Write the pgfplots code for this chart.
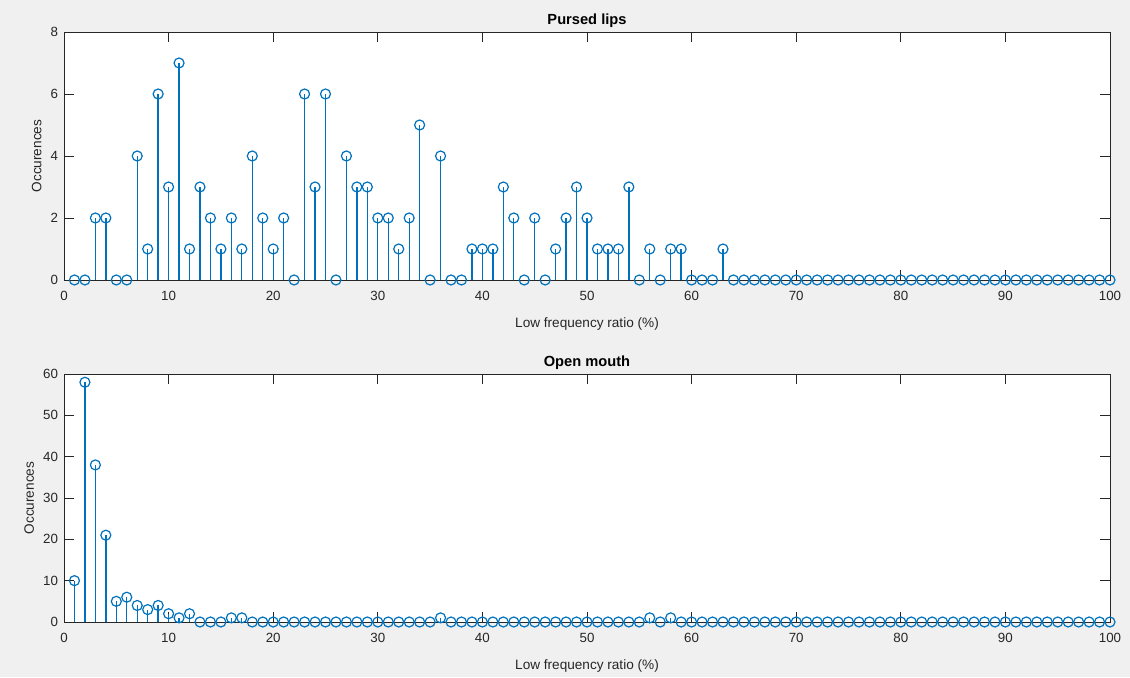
\documentclass[border=0pt]{standalone}
\usepackage{pgfplots}
\pgfplotsset{compat=1.18}
\usepackage{pgfplotstable}
\usepackage{fontspec}
\setmainfont{Liberation Sans}
\definecolor{mblue}{RGB}{0,114,189}
\definecolor{mgray}{RGB}{38,38,38}
\definecolor{bg}{RGB}{240,240,240}

\pgfplotstableread{
x y
1 0
2 0
3 2
4 2
5 0
6 0
7 4
8 1
9 6
10 3
11 7
12 1
13 3
14 2
15 1
16 2
17 1
18 4
19 2
20 1
21 2
22 0
23 6
24 3
25 6
26 0
27 4
28 3
29 3
30 2
31 2
32 1
33 2
34 5
35 0
36 4
37 0
38 0
39 1
40 1
41 1
42 3
43 2
44 0
45 2
46 0
47 1
48 2
49 3
50 2
51 1
52 1
53 1
54 3
55 0
56 1
57 0
58 1
59 1
60 0
61 0
62 0
63 1
64 0
65 0
66 0
67 0
68 0
69 0
70 0
71 0
72 0
73 0
74 0
75 0
76 0
77 0
78 0
79 0
80 0
81 0
82 0
83 0
84 0
85 0
86 0
87 0
88 0
89 0
90 0
91 0
92 0
93 0
94 0
95 0
96 0
97 0
98 0
99 0
100 0
}\pursed

\pgfplotstableread{
x y
1 10
2 58
3 38
4 21
5 5
6 6
7 4
8 3
9 4
10 2
11 1
12 2
13 0
14 0
15 0
16 1
17 1
18 0
19 0
20 0
21 0
22 0
23 0
24 0
25 0
26 0
27 0
28 0
29 0
30 0
31 0
32 0
33 0
34 0
35 0
36 1
37 0
38 0
39 0
40 0
41 0
42 0
43 0
44 0
45 0
46 0
47 0
48 0
49 0
50 0
51 0
52 0
53 0
54 0
55 0
56 1
57 0
58 1
59 0
60 0
61 0
62 0
63 0
64 0
65 0
66 0
67 0
68 0
69 0
70 0
71 0
72 0
73 0
74 0
75 0
76 0
77 0
78 0
79 0
80 0
81 0
82 0
83 0
84 0
85 0
86 0
87 0
88 0
89 0
90 0
91 0
92 0
93 0
94 0
95 0
96 0
97 0
98 0
99 0
100 0
}\openmouth

\pgfplotsset{
  mataxis/.style={
    anchor=south west, scale only axis,
    width=784.5pt, height=186pt,
    xmin=0, xmax=100,
    xtick={0,10,...,100},
    axis background/.style={fill=white},
    axis line style={mgray, line width=0.5pt},
    every tick/.style={mgray, line width=0.5pt},
    tick align=inside,
    major tick length=7.5pt,
    tick label style={font=\fontsize{10}{12}\selectfont, text=mgray},
    xticklabel style={yshift=-5pt},
    yticklabel style={xshift=-1pt},
    /pgf/number format/assume math mode=true,
    label style={font=\fontsize{10.2}{12}\selectfont, text=mgray},
    xlabel style={yshift=-6pt},
    title style={font=\fontsize{11}{13}\selectfont\bfseries, text=black, yshift=-6pt},
    xlabel={Low frequency ratio (\%)},
    ylabel={Occurences},
    clip=false,
  },
  mystem/.style={color=mblue, draw=mblue, line width=1pt, ycomb, mark=o, mark size=3.75pt,
    mark options={solid, draw=mblue, line width=0.9pt, fill=none}},
}

\begin{document}
\begin{tikzpicture}
\fill[bg] (0,0) rectangle (847.5pt,507.75pt);
\begin{axis}[mataxis, at={(48pt,297.75pt)},
  ymin=0, ymax=8, ytick={0,2,...,8},
  title={Pursed lips}]
\addplot[mystem] table[x=x,y=y] {\pursed};
\end{axis}
\begin{axis}[mataxis, at={(48pt,41.25pt)},
  ymin=0, ymax=60, ytick={0,10,...,60},
  title={Open mouth}]
\addplot[mystem] table[x=x,y=y] {\openmouth};
\end{axis}
\end{tikzpicture}
\end{document}
